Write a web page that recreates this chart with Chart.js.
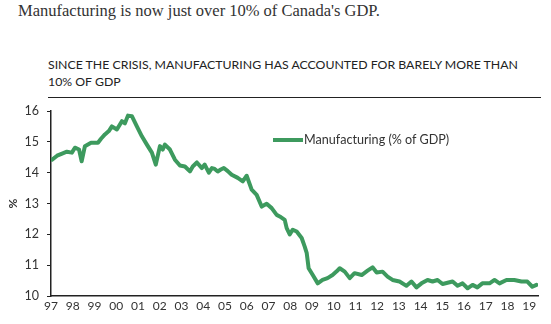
<!DOCTYPE html>
<html>
<head>
<meta charset="utf-8">
<script src="https://cdn.jsdelivr.net/npm/chart.js@4"></script>
<style>
  body { margin: 0; background: #fff; width: 551px; height: 324px; overflow: hidden; position: relative; }
  .headline { position: absolute; left: 18px; top: 1px; font-family: "Liberation Serif", serif; font-size: 16.5px; color: #333; }
  .subtitle { position: absolute; left: 48px; top: 56px; font-family: Lato, sans-serif; font-size: 12.3px; line-height: 17px; color: #222; width: 500px; }
  .rule { position: absolute; left: 48px; top: 97px; width: 493px; height: 0; border-top: 1.5px solid #222; }
  .legend { position: absolute; left: 273px; top: 132px; font-family: Lato, sans-serif; font-size: 12.6px; color: #333; display: flex; align-items: center; }
  .legend .swatch { width: 30px; height: 4px; background: #3d9a5e; margin-right: 1px; }
  .chart-box { position: absolute; left: 0; top: 95px; width: 551px; height: 229px; }
</style>
</head>
<body>
<div class="headline">Manufacturing is now just over 10% of Canada's GDP.</div>
<div class="subtitle">SINCE THE CRISIS, MANUFACTURING HAS ACCOUNTED FOR BARELY MORE THAN<br>10% OF GDP</div>
<div class="rule"></div>
<div class="chart-box"><canvas id="mfgChart" width="551" height="229"></canvas></div>
<div class="legend"><span class="swatch"></span><span id="legendLabel"></span></div>
<script>
// data: decimal years and % of GDP
const seriesLabel = 'Manufacturing (% of GDP)';
const years = [
  1997.05, 1997.28, 1997.51, 1997.73, 1997.96, 1998.10, 1998.29, 1998.41, 1998.56, 1998.84,
  1999.16, 1999.30, 1999.48, 1999.66, 1999.80, 2000.03, 2000.26, 2000.40, 2000.54, 2000.72,
  2000.95, 2001.18, 2001.41, 2001.64, 2001.82, 2002.01, 2002.14, 2002.24, 2002.47, 2002.70,
  2002.93, 2003.16, 2003.39, 2003.52, 2003.71, 2003.94, 2004.07, 2004.26, 2004.40, 2004.53,
  2004.67, 2004.81, 2004.95, 2005.13, 2005.31, 2005.59, 2005.82, 2006.00, 2006.23, 2006.46,
  2006.69, 2006.92, 2007.15, 2007.38, 2007.52, 2007.75, 2007.84, 2007.98, 2008.12, 2008.30,
  2008.53, 2008.67, 2008.76, 2008.85, 2009.04, 2009.27, 2009.49, 2009.72, 2009.95, 2010.14,
  2010.28, 2010.51, 2010.74, 2010.96, 2011.29, 2011.56, 2011.79, 2011.98, 2012.25, 2012.48,
  2012.71, 2013.03, 2013.35, 2013.58, 2013.81, 2014.04, 2014.32, 2014.55, 2014.78, 2015.01,
  2015.24, 2015.47, 2015.70, 2015.93, 2016.16, 2016.39, 2016.61, 2016.84, 2017.17, 2017.40,
  2017.63, 2017.95, 2018.31, 2018.64, 2018.91, 2019.14, 2019.33
];
const manufacturing = [
  14.42, 14.55, 14.62, 14.68, 14.65, 14.81, 14.75, 14.37, 14.86, 14.97,
  14.97, 15.10, 15.24, 15.35, 15.50, 15.40, 15.67, 15.60, 15.85, 15.83,
  15.50, 15.18, 14.91, 14.65, 14.26, 14.86, 14.75, 14.91, 14.75, 14.42,
  14.23, 14.20, 14.04, 14.20, 14.33, 14.15, 14.26, 14.00, 14.15, 14.12,
  14.04, 14.10, 14.15, 14.05, 13.93, 13.83, 13.72, 13.90, 13.45, 13.28,
  12.90, 12.99, 12.85, 12.63, 12.58, 12.47, 12.20, 12.00, 12.15, 12.09,
  11.88, 11.60, 11.40, 10.90, 10.68, 10.41, 10.52, 10.58, 10.68, 10.80,
  10.90, 10.79, 10.58, 10.74, 10.68, 10.82, 10.93, 10.76, 10.79, 10.63,
  10.52, 10.47, 10.33, 10.47, 10.28, 10.41, 10.52, 10.47, 10.52, 10.39,
  10.43, 10.47, 10.33, 10.41, 10.25, 10.36, 10.28, 10.41, 10.41, 10.52,
  10.41, 10.52, 10.52, 10.47, 10.47, 10.30, 10.36
];
const yTicks = [10, 11, 12, 13, 14, 15, 16];

document.getElementById('legendLabel').textContent = seriesLabel;

const points = years.map((yr, i) => ({ x: yr, y: manufacturing[i] }));

const ctx = document.getElementById('mfgChart').getContext('2d');
new Chart(ctx, {
  type: 'line',
  data: {
    datasets: [{
      label: seriesLabel,
      data: points,
      borderColor: '#3d9a5e',
      borderWidth: 4,
      pointRadius: 0,
      tension: 0,
      borderJoinStyle: 'round',
      borderCapStyle: 'round'
    }]
  },
  options: {
    responsive: false,
    animation: false,
    layout: { padding: { top: 16, right: 13, left: 0, bottom: 0 } },
    plugins: {
      legend: { display: false },
      tooltip: { enabled: false }
    },
    scales: {
      x: {
        type: 'linear',
        min: 1997,
        max: 2019.4,
        afterFit: (scale) => { scale.height = 28; },
        afterBuildTicks: (scale) => {
          const t = [];
          for (let y = 1997; y <= 2019; y++) t.push({ value: y });
          scale.ticks = t;
        },
        ticks: {
          autoSkip: false,
          maxRotation: 0,
          padding: 3,
          color: '#333',
          font: { family: 'Lato', size: 12 },
          callback: (v) => String(v).slice(-2)
        },
        grid: { display: false, drawTicks: false },
        border: { display: true, color: '#222', width: 1.5 }
      },
      y: {
        min: 10,
        max: 16,
        afterFit: (scale) => { scale.width = 51; },
        afterBuildTicks: (scale) => { scale.ticks = yTicks.map(v => ({ value: v })); },
        ticks: {
          padding: 8,
          color: '#333',
          font: { family: 'Lato', size: 12.5 }
        },
        title: {
          display: true,
          text: '%',
          color: '#333',
          font: { family: 'Lato', size: 12, weight: 'bold' },
          padding: { top: 6, bottom: 0 }
        },
        grid: { display: true, drawOnChartArea: false, drawTicks: true, tickLength: 4, color: '#222' },
        border: { display: true, color: '#222', width: 1.5 }
      }
    }
  }
});
</script>
</body>
</html>
